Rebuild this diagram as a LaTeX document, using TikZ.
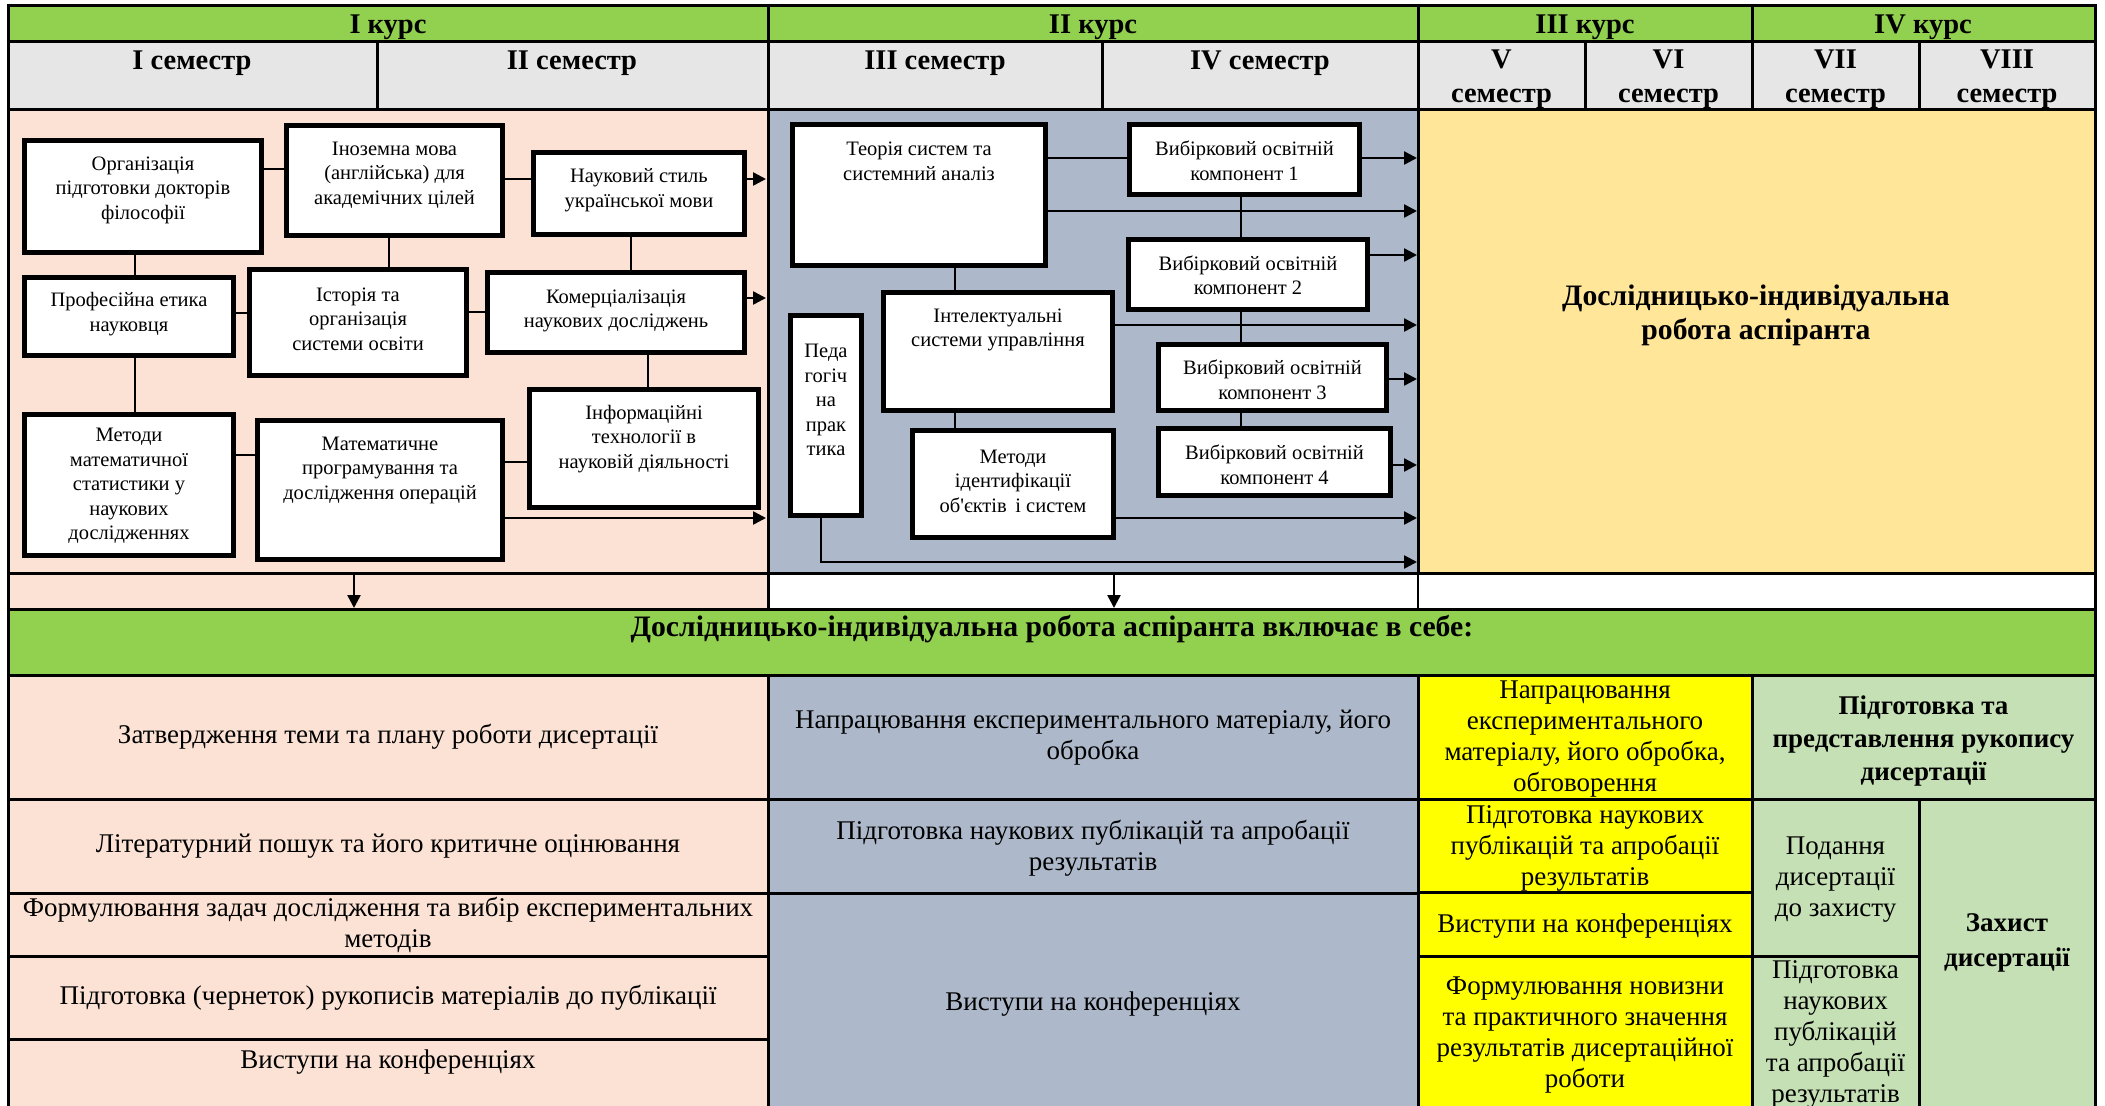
\documentclass[tikz,border=0pt]{standalone}
\usepackage{fontspec}
\setmainfont{Liberation Serif}
\usetikzlibrary{arrows.meta}
\definecolor{hgreen}{HTML}{92D050}
\definecolor{hgrey}{HTML}{E7E6E6}
\definecolor{cpink}{HTML}{FBE2D5}
\definecolor{cblue}{HTML}{ADB9CA}
\definecolor{cgold}{HTML}{FFE699}
\definecolor{cyel}{HTML}{FFFF00}
\definecolor{clgreen}{HTML}{C5E0B4}
\begin{document}
\begin{tikzpicture}[x=1pt,y=-1pt,
  box/.style={draw=black, fill=white, line width=5pt, inner sep=0pt},
  btxt/.style={align=center, font=\fontsize{20.5}{24.5}\selectfont, inner sep=0pt},
  ttxt/.style={align=center, font=\fontsize{27}{31}\selectfont, inner sep=0pt},
  htxt/.style={align=center, font=\fontsize{28.5}{34}\selectfont\bfseries, inner sep=0pt},
  bigtxt/.style={align=center, font=\fontsize{29.7}{34}\selectfont\bfseries, inner sep=0pt},
  bbtxt/.style={align=center, font=\fontsize{27}{33}\selectfont\bfseries, inner sep=0pt},
  conn/.style={line width=2.5pt},
  thinc/.style={line width=1.5pt},
  arr/.style={line width=2.5pt, -{Triangle[length=13pt,width=13pt]}},
  gridl/.style={line width=3pt}
]
\useasboundingbox (0,0) rectangle (2105,1106);
\clip (0,0) rectangle (2105,1106);

% ---------- fills ----------
\fill[hgreen] (8,5) rectangle (2095,41);
\fill[hgrey] (8,41) rectangle (2095,109);
\fill[cpink] (8,109) rectangle (768,609);
\fill[cblue] (768,109) rectangle (1418,573);
\fill[cgold] (1418,109) rectangle (2095,573);
\fill[white] (768,573) rectangle (2095,609);
\fill[hgreen] (8,609) rectangle (2095,675);
\fill[cpink] (8,675) rectangle (768,1110);
\fill[cblue] (768,675) rectangle (1418,1110);
\fill[cyel] (1418,675) rectangle (1752,1110);
\fill[clgreen] (1752,675) rectangle (2095,1110);

% ---------- grid ----------
\foreach \yy in {5,41,109,573,609,675} {\draw[gridl] (6.5,\yy) -- (2096.5,\yy);}
\draw[gridl] (8,3.5) -- (8,1110);
\draw[gridl] (2095,3.5) -- (2095,1110);
\draw[gridl] (768,5) -- (768,609);
\draw[gridl] (768,675) -- (768,1110);
\draw[gridl] (1418,5) -- (1418,573);
\draw[thinc] (1418,573) -- (1418,609);
\draw[gridl] (1418,675) -- (1418,1110);
\draw[gridl] (1752,5) -- (1752,109);
\draw[gridl] (1752,675) -- (1752,1110);
\foreach \xx in {377,1102,1585,1919} {\draw[gridl] (\xx,41) -- (\xx,109);}
\draw[gridl] (1919,799) -- (1919,1110);
\foreach \yy in {799,893,956,1039} {\draw[gridl] (8,\yy) -- (768,\yy);}
\foreach \yy in {799,893} {\draw[gridl] (768,\yy) -- (1418,\yy);}
\foreach \yy in {799,892,956} {\draw[gridl] (1418,\yy) -- (1752,\yy);}
\draw[gridl] (1752,799) -- (2095,799);
\draw[gridl] (1752,956) -- (1919,956);

% ---------- header ----------
\node[htxt] (k1) at (388,27) {I курс};
\node[htxt] (k2) at (1093,27) {II курс};
\node[htxt] (k3) at (1585,27) {III курс};
\node[htxt] (k4) at (1923,27) {IV курс};
\node[htxt] (s1) at (192,63) {I семестр};
\node[htxt] (s2) at (572,63) {II семестр};
\node[htxt] (s3) at (935,63) {III семестр};
\node[htxt] (s4) at (1260,63) {IV семестр};
\node[htxt] (s5) at (1501.5,79) {V\\семестр};
\node[htxt] (s6) at (1668.5,79) {VI\\семестр};
\node[htxt] (s7) at (1835.5,79) {VII\\семестр};
\node[htxt] (s8) at (2007,79) {VIII\\семестр};

% ---------- pink boxes ----------
\node[box, minimum width=237pt, minimum height=112pt] (b1) at (143,196.5) {};
\node[box, minimum width=216pt, minimum height=110pt] (b2) at (394.5,180.5) {};
\node[box, minimum width=211pt, minimum height=82pt] (b3) at (639,193.5) {};
\node[box, minimum width=209pt, minimum height=78pt] (b4) at (129,316.5) {};
\node[box, minimum width=217pt, minimum height=106pt] (b5) at (358,322.5) {};
\node[box, minimum width=257pt, minimum height=80pt] (b6) at (616,312.5) {};
\node[box, minimum width=209pt, minimum height=141pt] (b7) at (129,485) {};
\node[box, minimum width=245pt, minimum height=139pt] (b8) at (380,490) {};
\node[box, minimum width=229pt, minimum height=118pt] (b9) at (644,448.5) {};

\node[btxt] (tb1) at (143,190) {Організація\\підготовки докторів\\філософії};
\node[btxt] (tb2) at (394.5,175) {Іноземна мова\\(англійська) для\\академічних цілей};
\node[btxt] (tb3) at (639,190) {Науковий стиль\\української мови};
\node[btxt] (tb4) at (129,314) {Професійна етика\\науковця};
\node[btxt] (tb5) at (358,319) {Історія та\\організація\\системи освіти};
\node[btxt] (tb6) at (616,311) {Комерціалізація\\наукових досліджень};
\node[btxt] (tb7) at (129,486) {Методи\\математичної\\статистики у\\наукових\\дослідженнях};
\node[btxt] (tb8) at (380,470) {Математичне\\програмування та\\дослідження операцій};
\node[btxt] (tb9) at (644,439) {Інформаційні\\технології в\\науковій діяльності};

% ---------- blue-grey boxes ----------
\node[box, minimum width=253pt, minimum height=141pt] (ba) at (919,195) {};
\node[box, minimum width=230pt, minimum height=70pt] (bb) at (1244.5,159.5) {};
\node[box, minimum width=239pt, minimum height=70pt] (bc) at (1248,274.5) {};
\node[box, minimum width=229pt, minimum height=118pt] (bd) at (998,351.5) {};
\node[box, minimum width=71pt, minimum height=200pt] (be) at (826,415.5) {};
\node[box, minimum width=228pt, minimum height=66pt] (bf) at (1272.5,377.5) {};
\node[box, minimum width=232pt, minimum height=67pt] (bg) at (1274.5,462) {};
\node[box, minimum width=201pt, minimum height=107pt] (bh) at (1013,484) {};

\node[btxt] (tba) at (919,161.5) {Теорія систем та\\системний аналіз};
\node[btxt] (tbb) at (1244.5,161) {Вибірковий освітній\\компонент 1};
\node[btxt] (tbc) at (1248,275.5) {Вибірковий освітній\\компонент 2};
\node[btxt] (tbd) at (998,330) {Інтелектуальні\\системи управління};
\node[btxt] (tbe) at (826,400) {Педа\\гогіч\\на\\прак\\тика};
\node[btxt] (tbf) at (1272.5,380) {Вибірковий освітній\\компонент 3};
\node[btxt] (tbg) at (1274.5,465) {Вибірковий освітній\\компонент 4};
\node[btxt] (tbh) at (1013,481) {Методи\\ідентифікації\\об\textquotesingle єктів\, і систем};

% ---------- boundaries ----------
\coordinate (xb1) at (766,0);
\coordinate (xb2) at (1417,0);
\coordinate (pe) at (821,562);

% ---------- pink connectors ----------
\draw[thinc] (b1.east |- 0,169) -- (b2.west |- 0,169);
\draw[conn] (b2.east |- 0,179) -- (b3.west |- 0,179);
\draw[arr] (b3.east |- 0,179) -- (xb1 |- 0,179);
\draw[conn] (b1.south -| 135,0) -- (b4.north -| 135,0);
\draw[conn] (b2.south -| 389,0) -- (b5.north -| 389,0);
\draw[conn] (b3.south -| 631,0) -- (b6.north -| 631,0);
\draw[thinc] (b4.east |- 0,313) -- (b5.west |- 0,313);
\draw[conn] (b5.east |- 0,312) -- (b6.west |- 0,312);
\draw[arr] (b6.east |- 0,298) -- (xb1 |- 0,298);
\draw[conn] (b4.south -| 135,0) -- (b7.north -| 135,0);
\draw[conn] (b6.south -| 648,0) -- (b9.north -| 648,0);
\draw[conn] (b7.east |- 0,455) -- (b8.west |- 0,455);
\draw[conn] (b8.east |- 0,462) -- (b9.west |- 0,462);
\draw[arr] (b8.east |- 0,518) -- (xb1 |- 0,518);

% ---------- blue-grey connectors ----------
\draw[conn] (ba.east |- 0,158) -- (bb.west |- 0,158);
\draw[arr] (bb.east |- 0,158) -- (xb2 |- 0,158);
\draw[arr] (ba.east |- 0,211) -- (xb2 |- 0,211);
\draw[conn] (bb.south -| 1241,0) -- (bc.north -| 1241,0);
\draw[arr] (bc.east |- 0,255) -- (xb2 |- 0,255);
\draw[arr] (bd.east |- 0,325) -- (xb2 |- 0,325);
\draw[conn] (bc.south -| 1241,0) -- (bf.north -| 1241,0);
\draw[arr] (bf.east |- 0,379) -- (xb2 |- 0,379);
\draw[conn] (bf.south -| 1241,0) -- (bg.north -| 1241,0);
\draw[arr] (bg.east |- 0,465) -- (xb2 |- 0,465);
\draw[arr] (bh.east |- 0,518) -- (xb2 |- 0,518);
\draw[arr] (be.south -| pe) -- (pe) -- (xb2 |- pe);
\draw[conn] (ba.south -| 955,0) -- (bd.north -| 955,0);
\draw[conn] (bd.south -| 955,0) -- (bh.north -| 955,0);

% ---------- gold region ----------
\node[bigtxt] (dir) at (1756,315) {Дослідницько-індивідуальна\\робота аспіранта};

% ---------- down arrows ----------
\coordinate (da1) at (354,575);
\coordinate (da2) at (354,608);
\coordinate (db1) at (1114,575);
\coordinate (db2) at (1114,608);
\draw[arr] (da1) -- (da2);
\draw[arr] (db1) -- (db2);

% ---------- heading ----------
\node[bigtxt] (hd) at (1052,629) {Дослідницько-індивідуальна робота аспіранта включає в себе:};

% ---------- bottom table ----------
\node[ttxt] (t11) at (388,737) {Затвердження теми та плану роботи дисертації};
\node[ttxt] (t12) at (388,846) {Літературний пошук та його критичне оцінювання};
\node[ttxt] (t13) at (388,925) {Формулювання задач дослідження та вибір експериментальних\\методів};
\node[ttxt] (t14) at (388,998) {Підготовка (чернеток) рукописів матеріалів до публікації};
\node[ttxt] (t15) at (388,1062) {Виступи на конференціях};

\node[ttxt] (t21) at (1093,738) {Напрацювання експериментального матеріалу, його\\обробка};
\node[ttxt] (t22) at (1093,848) {Підготовка наукових публікацій та апробації\\результатів};
\node[ttxt] (t23) at (1093,1004) {Виступи на конференціях};

\node[ttxt] (t31) at (1585,739) {Напрацювання\\експериментального\\матеріалу, його обробка,\\обговорення};
\node[ttxt] (t32) at (1585,848) {Підготовка наукових\\публікацій та апробації\\результатів};
\node[ttxt] (t33) at (1585,926) {Виступи на конференціях};
\node[ttxt] (t34) at (1585,1035.5) {Формулювання новизни\\та практичного значення\\результатів дисертаційної\\роботи};

\node[bbtxt] (t41) at (1923.5,741) {Підготовка та\\представлення рукопису\\дисертації};
\node[ttxt] (t42) at (1835.5,880) {Подання\\дисертації\\до захисту};
\node[ttxt] (t43) at (1835.5,1034) {Підготовка\\наукових\\публікацій\\та апробації\\результатів};
\node[bbtxt, font=\fontsize{27}{35}\selectfont\bfseries] (t44) at (2007,942.5) {Захист\\дисертації};

\end{tikzpicture}
\end{document}
